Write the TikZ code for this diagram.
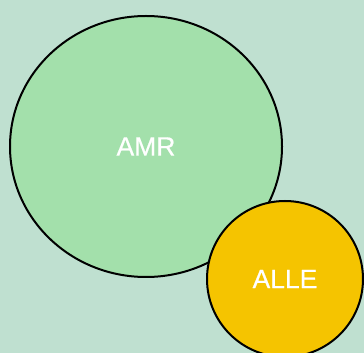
\documentclass[tikz,border=0pt]{standalone}
\usepackage{fontspec}
\setmainfont{Liberation Sans}
\newfontfamily\labelfont[BoldFont=Liberation Sans, BoldFeatures={FakeBold=0.6}]{Liberation Sans}
\usetikzlibrary{shapes.geometric}
\definecolor{bg}{HTML}{BFE0D0}
\definecolor{amrfill}{HTML}{A3E0AB}
\definecolor{allefill}{HTML}{F5C400}
\tikzset{
  blob/.style={ellipse, draw=black, line width=2pt, inner sep=0pt, text=white,
    font=\labelfont\bfseries\fontsize{26.5}{30}\selectfont}
}
\begin{document}
\begin{tikzpicture}[x=1pt,y=1pt]
\fill[bg] (0,0) rectangle (364,353);
\useasboundingbox (0,0) rectangle (364,353);
\node[blob, fill=amrfill, minimum width=272pt, minimum height=261pt] (amr) at (146,206.5) {AMR};
\node[blob, fill=allefill, minimum width=156pt, minimum height=156pt] (alle) at (285,74) {ALLE};
\end{tikzpicture}
\end{document}
